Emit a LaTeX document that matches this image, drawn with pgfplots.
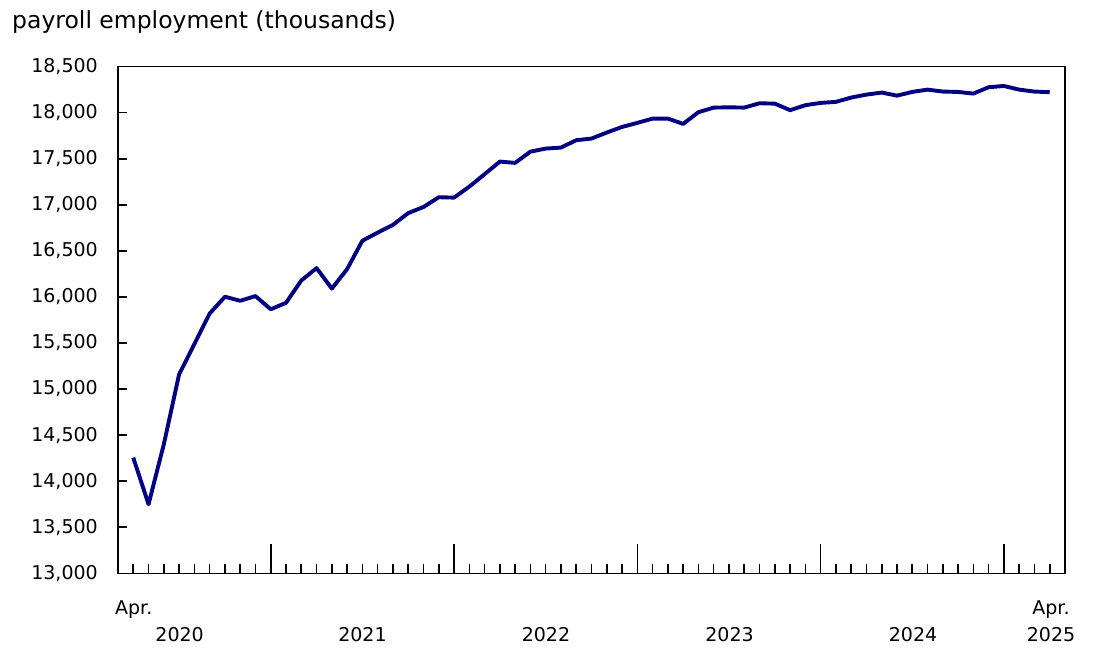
\documentclass[border=0pt]{standalone}
\usepackage{pgfplots}
\pgfplotsset{compat=1.18}
\usepackage{fontspec}
\setmainfont{DejaVu Sans}
\definecolor{navyline}{RGB}{0,0,128}
\pgfplotstableread{
idx val
0 14255
1 13749
2 14400
3 15159
4 15489
5 15819
6 16002
7 15958
8 16009
9 15866
10 15936
11 16178
12 16313
13 16090
14 16302
15 16610
16 16698
17 16782
18 16910
19 16976
20 17082
21 17078
22 17197
23 17332
24 17469
25 17455
26 17577
27 17610
28 17621
29 17701
30 17719
31 17784
32 17845
33 17889
34 17936
35 17936
36 17878
37 18005
38 18055
39 18058
40 18055
41 18102
42 18098
43 18027
44 18081
45 18106
46 18117
47 18164
48 18196
49 18218
50 18185
51 18225
52 18250
53 18229
54 18225
55 18207
56 18276
57 18290
58 18250
59 18229
60 18222
}\datatable
\begin{document}
\begin{tikzpicture}[x=1pt,y=1pt]
\begin{axis}[
  at={(0,0)}, anchor=south west,
  scale only axis,
  width=947pt, height=506.7pt,
  xmin=-1, xmax=61,
  ymin=13000, ymax=18500,
  ytick={13000,13500,...,18500},
  scaled y ticks=false,
  xtick={0,...,60},
  xticklabels={},
  extra x ticks={9,21,33,45,57},
  extra x tick labels={},
  extra x tick style={major tick length=29pt},
  major tick length=9pt,
  tick align=inside,
  tick pos=left,
  axis line style={line width=1.6pt, black},
  tick style={line width=1.6pt, black},
  yticklabel style={anchor=east, inner sep=0pt, xshift=-20pt, font=\fontsize{19}{23}\selectfont,
    /pgf/number format/.cd, fixed, precision=0, 1000 sep={,}, assume math mode=true},
]
\addplot[navyline, line width=3.9pt, line join=round] table[x=idx, y=val] {\datatable};
\end{axis}
\begin{scope}[every node/.style={font=\fontsize{19}{23}\selectfont, anchor=base, inner sep=0pt}]
\node at (133.7-118, 573.3-614) {Apr.};
\node at (1051-118, 573.3-614) {Apr.};
\node at (179.6-118, 573.3-641.5) {2020};
\node at (362.5-118, 573.3-641.5) {2021};
\node at (546-118, 573.3-641.5) {2022};
\node at (729.5-118, 573.3-641.5) {2023};
\node at (913-118, 573.3-641.5) {2024};
\node at (1051-118, 573.3-641.5) {2025};
\end{scope}
\node[anchor=base west, inner sep=0pt, font=\fontsize{23.5}{28}\selectfont] at (12-118, 573.3-28.3) {payroll employment (thousands)};
\path (-118,-88.7) rectangle (984,573.3);
\end{tikzpicture}
\end{document}
